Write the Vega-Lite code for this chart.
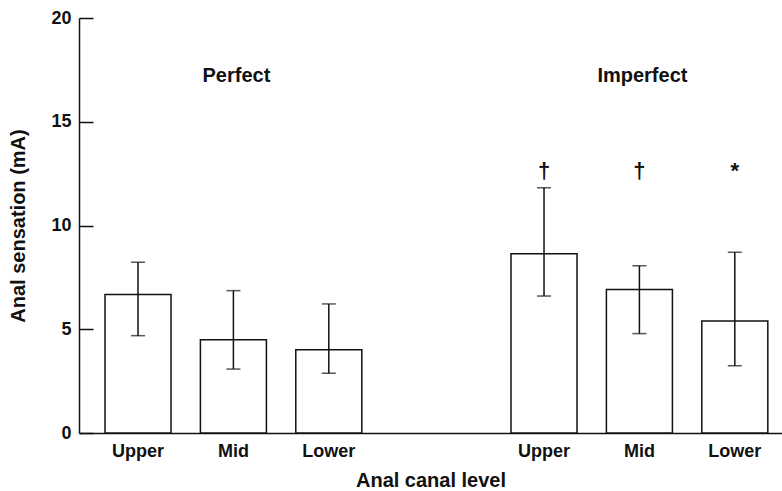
{
  "$schema": "https://vega.github.io/schema/vega-lite/v6.json",
  "width": 703,
  "height": 415,
  "autosize": {"type": "none"},
  "padding": {"left": 79, "top": 18, "right": 0, "bottom": 58},
  "background": "white",
  "config": {
    "view": {"stroke": null},
    "font": "Liberation Sans",
    "axis": {"grid": false, "domainColor": "#111", "domainWidth": 1.5, "labelFont": "Liberation Sans", "titleFont": "Liberation Sans", "labelColor": "#111", "titleColor": "#111", "labelFontWeight": "bold", "titleFontWeight": "bold"}
  },
  "data": {
    "values": [
      {"group": "Perfect", "level": "Upper", "mean": 6.68, "lo": 4.69, "hi": 8.23, "sig": ""},
      {"group": "Perfect", "level": "Mid", "mean": 4.50, "lo": 3.08, "hi": 6.86, "sig": ""},
      {"group": "Perfect", "level": "Lower", "mean": 4.01, "lo": 2.88, "hi": 6.22, "sig": ""},
      {"group": "Imperfect", "level": "Upper", "mean": 8.64, "lo": 6.60, "hi": 11.82, "sig": "†"},
      {"group": "Imperfect", "level": "Mid", "mean": 6.91, "lo": 4.79, "hi": 8.06, "sig": "†"},
      {"group": "Imperfect", "level": "Lower", "mean": 5.40, "lo": 3.24, "hi": 8.71, "sig": "*"}
    ]
  },
  "encoding": {
    "x": {
      "field": "group", "type": "nominal", "sort": ["Perfect", "Imperfect"],
      "scale": {"paddingInner": 0.3675, "paddingOuter": 0.0495, "align": 0.647, "round": false},
      "axis": {"labels": false, "ticks": false, "title": "Anal canal level", "titleFontSize": 20, "titlePadding": 37, "domainWidth": 1.5}
    },
    "xOffset": {
      "field": "level", "type": "nominal", "sort": ["Upper", "Mid", "Lower"],
      "scale": {"paddingInner": 0.308, "paddingOuter": 0}
    }
  },
  "layer": [
    {
      "mark": {"type": "bar", "fill": "white", "stroke": "#111", "strokeWidth": 1.5},
      "encoding": {
        "y": {
          "field": "mean", "type": "quantitative",
          "scale": {"domain": [0, 20], "nice": false},
          "axis": {"values": [0, 5, 10, 15, 20], "tickSize": -14, "tickWidth": 1.5, "tickColor": "#111", "labelFontSize": 18, "labelPadding": 22, "title": "Anal sensation (mA)", "titleFontSize": 20, "titlePadding": 22}
        }
      }
    },
    {
      "mark": {"type": "rule", "stroke": "#111", "strokeWidth": 1.5},
      "encoding": {
        "y": {"field": "lo", "type": "quantitative"},
        "y2": {"field": "hi"}
      }
    },
    {
      "mark": {"type": "tick", "color": "#111", "size": 14, "thickness": 1.5},
      "encoding": {"y": {"field": "lo", "type": "quantitative"}}
    },
    {
      "mark": {"type": "tick", "color": "#111", "size": 14, "thickness": 1.5},
      "encoding": {"y": {"field": "hi", "type": "quantitative"}}
    },
    {
      "mark": {"type": "text", "font": "Liberation Sans", "fontWeight": "bold", "fontSize": 18, "baseline": "alphabetic", "dy": 24, "color": "#111"},
      "encoding": {
        "y": {"datum": 0, "type": "quantitative"},
        "text": {"field": "level"}
      }
    },
    {
      "transform": [{"filter": "datum.sig != ''"}],
      "mark": {"type": "text", "font": "Liberation Sans", "fontWeight": "bold", "fontSize": 22, "baseline": "alphabetic", "color": "#111"},
      "encoding": {
        "y": {"datum": 12.29, "type": "quantitative"},
        "text": {"field": "sig"}
      }
    },
    {
      "transform": [{"filter": "datum.level == 'Mid'"}],
      "mark": {"type": "text", "font": "Liberation Sans", "fontWeight": "bold", "fontSize": 20, "baseline": "alphabetic", "dx": 3, "color": "#111"},
      "encoding": {
        "y": {"datum": 16.9, "type": "quantitative"},
        "text": {"field": "group"}
      }
    }
  ]
}
